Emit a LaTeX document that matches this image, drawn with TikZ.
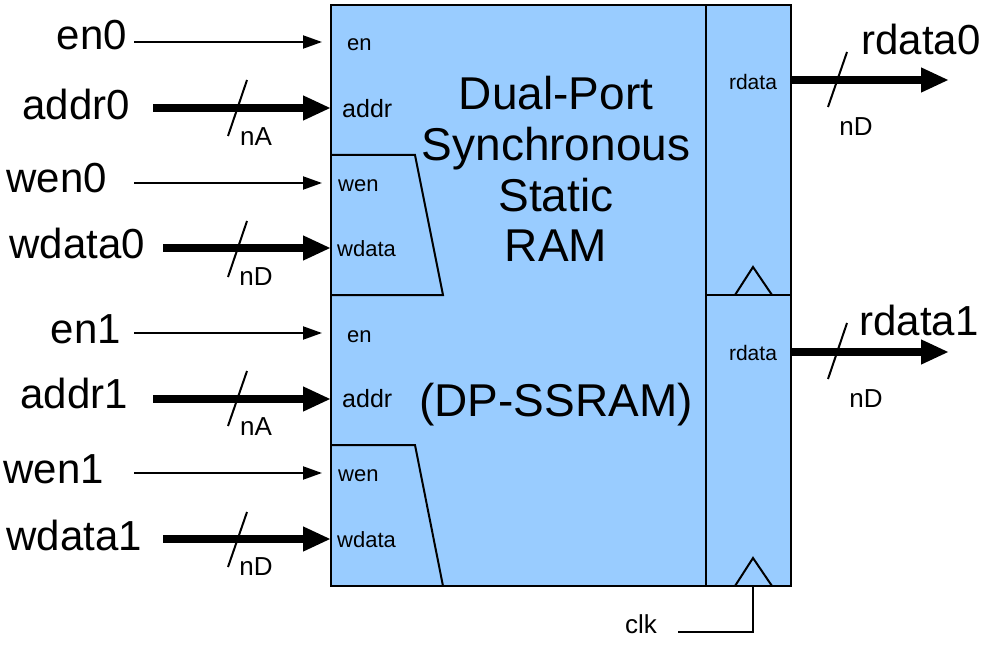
\documentclass[tikz,border=0pt]{standalone}
\usepackage{fontspec}
\setmainfont{Liberation Sans}
\usetikzlibrary{arrows.meta}
\definecolor{ramblue}{RGB}{153,204,255}
\newcommand{\fs}[1]{\fontsize{#1}{#1}\selectfont}
\begin{document}
\begin{tikzpicture}[x=1pt,y=-1pt,
  sigbig/.style={inner sep=0pt,font=\fs{42}},
  portlbl/.style={inner sep=0pt,anchor=west,font=\fs{22}},
  widthlbl/.style={inner sep=0pt,font=\fs{26}},
  thinarrow/.style={line width=2pt,-{Triangle[length=19pt,width=13pt]}},
  busarrow/.style={line width=8pt,-{Triangle[length=28pt,width=23pt]}},
  slashmark/.style={line width=2pt},
  boxline/.style={line width=2pt}]
\useasboundingbox (0,0) rectangle (988,650);
% main block
\node[boxline,draw,fill=ramblue,minimum width=460pt,minimum height=581pt,inner sep=0pt] (ram) at (561,295.5) {};
\coordinate (rtop) at (706,5);
\coordinate (rbot) at (706,586);
\draw[boxline] (rtop) -- (rbot);
\draw[boxline] (706,295) -- (791,295);
% clock triangles
\draw[boxline] (735,295) -- (753,267) -- (772,295);
\draw[boxline] (735,586) -- (753,558) -- (772,586);
% write trapezoids
\draw[boxline] (331,155) -- (415,155) -- (443,295) -- (331,295);
\draw[boxline] (331,445) -- (415,445) -- (443,586);
% title
\node[inner sep=0pt,align=center,font=\fontsize{46}{50.7}\selectfont] (title) at (556,169) {Dual-Port\\Synchronous\\Static\\RAM};
\node[inner sep=0pt,font=\fs{46}] (abbr) at (556,405) {(DP-SSRAM)};
% port labels
\node[portlbl] (pen0) at (347,45) {en};
\node[portlbl,font=\fs{25}] (paddr0) at (342,109) {addr};
\node[portlbl] (pwen0) at (338,186) {wen};
\node[portlbl] (pwdata0) at (337,249) {wdata};
\node[portlbl] (pen1) at (347,337) {en};
\node[portlbl,font=\fs{25}] (paddr1) at (342,399) {addr};
\node[portlbl] (pwen1) at (338,476) {wen};
\node[portlbl] (pwdata1) at (337,540) {wdata};
\node[inner sep=0pt,font=\fs{21}] (prd0) at (753,82) {rdata};
\node[inner sep=0pt,font=\fs{21}] (prd1) at (753,353) {rdata};
% input signal labels
\node[sigbig,anchor=east] (en0) at (127,35) {en0};
\node[sigbig,anchor=east] (addr0) at (130,104) {addr0};
\node[sigbig,anchor=east] (wen0) at (107,178) {wen0};
\node[sigbig,anchor=east] (wdata0) at (145,243) {wdata0};
\node[sigbig,anchor=east] (en1) at (121,329) {en1};
\node[sigbig,anchor=east] (addr1) at (128,393) {addr1};
\node[sigbig,anchor=east] (wen1) at (104,469) {wen1};
\node[sigbig,anchor=east] (wdata1) at (142,535) {wdata1};
% arrow endpoints
\coordinate (en0s) at (134,42);   \coordinate (en0e) at (322,42);
\coordinate (addr0s) at (153,108); \coordinate (addr0e) at (331,108);
\coordinate (wen0s) at (134,183);  \coordinate (wen0e) at (322,183);
\coordinate (wdata0s) at (163,248); \coordinate (wdata0e) at (331,248);
\coordinate (en1s) at (134,333);   \coordinate (en1e) at (322,333);
\coordinate (addr1s) at (153,399); \coordinate (addr1e) at (331,399);
\coordinate (wen1s) at (134,473);  \coordinate (wen1e) at (322,473);
\coordinate (wdata1s) at (163,539); \coordinate (wdata1e) at (331,539);
\coordinate (rd0s) at (791,80);  \coordinate (rd0e) at (949,80);
\coordinate (rd1s) at (791,352); \coordinate (rd1e) at (949,352);
\draw[thinarrow] (en0s) -- (en0e);
\draw[busarrow] (addr0s) -- (addr0e);
\draw[thinarrow] (wen0s) -- (wen0e);
\draw[busarrow] (wdata0s) -- (wdata0e);
\draw[thinarrow] (en1s) -- (en1e);
\draw[busarrow] (addr1s) -- (addr1e);
\draw[thinarrow] (wen1s) -- (wen1e);
\draw[busarrow] (wdata1s) -- (wdata1e);
\draw[busarrow] (rd0s) -- (rd0e);
\draw[busarrow] (rd1s) -- (rd1e);
% width slashes
\draw[slashmark] (228,136) -- (247,80);
\draw[slashmark] (228,277) -- (247,221);
\draw[slashmark] (228,426) -- (247,371);
\draw[slashmark] (228,567) -- (247,512);
\draw[slashmark] (828,107) -- (847,52);
\draw[slashmark] (828,379) -- (847,323);
\node[widthlbl] (wa0) at (256,137) {nA};
\node[widthlbl] (wd0) at (256,277) {nD};
\node[widthlbl] (wa1) at (256,427) {nA};
\node[widthlbl] (wd1) at (256,567) {nD};
\node[widthlbl] (wr0) at (856,127) {nD};
\node[widthlbl] (wr1) at (866,399) {nD};
% outputs
\node[sigbig] (rdata0) at (921,39) {rdata0};
\node[sigbig] (rdata1) at (919,320) {rdata1};
% clock
\node[inner sep=0pt,anchor=east,font=\fs{26}] (clk) at (657,624) {clk};
\coordinate (clks) at (678,632);
\coordinate (clke) at (753,586);
\draw[boxline] (clks) -| (clke);
\end{tikzpicture}
\end{document}
